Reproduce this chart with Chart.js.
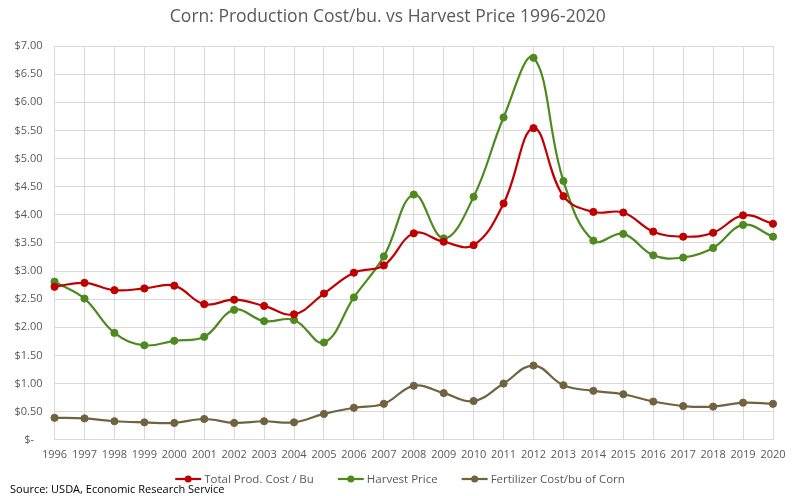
<!DOCTYPE html>
<html>
<head>
<meta charset="utf-8">
<script src="https://cdn.jsdelivr.net/npm/chart.js@4.4.1/dist/chart.umd.min.js"></script>
<style>
  html, body { margin: 0; padding: 0; background: #fff; }
  #wrap { width: 800px; height: 496px; position: relative; }
</style>
</head>
<body>
<div id="wrap"><canvas id="cornChart"></canvas></div>
<script>
// Values ($ per bushel)
const years = ['1996', '1997', '1998', '1999', '2000', '2001', '2002', '2003', '2004', '2005', '2006', '2007', '2008',
    '2009', '2010', '2011', '2012', '2013', '2014', '2015', '2016', '2017', '2018', '2019', '2020'];
const totalProdCost = [2.72, 2.79, 2.66, 2.69, 2.74, 2.41, 2.49, 2.38, 2.23, 2.60, 2.97, 3.10, 3.67,
    3.52, 3.46, 4.20, 5.54, 4.33, 4.05, 4.04, 3.70, 3.61, 3.68, 3.99, 3.84];
const harvestPrice = [2.81, 2.51, 1.90, 1.68, 1.76, 1.83, 2.31, 2.11, 2.13, 1.73, 2.53, 3.26, 4.36,
    3.58, 4.32, 5.73, 6.79, 4.60, 3.54, 3.66, 3.28, 3.24, 3.41, 3.82, 3.61];
const fertilizerCost = [0.39, 0.38, 0.33, 0.31, 0.30, 0.37, 0.30, 0.33, 0.31, 0.46, 0.57, 0.64, 0.96,
    0.83, 0.69, 1.00, 1.32, 0.97, 0.87, 0.81, 0.68, 0.60, 0.59, 0.66, 0.64];
const seriesNames = ['Total Prod. Cost / Bu', 'Harvest Price', 'Fertilizer Cost/bu of Corn'];
const seriesColors = ['#C00000', '#4E8A1F', '#716340'];

const FONT = "'Open Sans', 'DejaVu Sans', sans-serif";

function makeSet(i, values) {
    return {
        label: seriesNames[i],
        data: values,
        borderColor: seriesColors[i],
        backgroundColor: seriesColors[i],
        borderWidth: 2.2,
        pointRadius: 3.6,
        pointBorderWidth: 1,
        pointHoverRadius: 3.6,
        tension: 0.4,
        fill: false
    };
}

// legend drawn as short line + dot, like the spreadsheet original
const bottomLegend = {
    id: 'bottomLegend',
    afterDraw(chart) {
        const ctx = chart.ctx;
        const y = 479;
        ctx.save();
        ctx.font = '11.5px ' + FONT;
        ctx.textBaseline = 'middle';
        const gap = 24;
        const items = chart.data.datasets.map(ds => ({
            ds, w: 26 + 3 + ctx.measureText(ds.label).width
        }));
        const total = items.reduce((s, it) => s + it.w, 0) + gap * (items.length - 1);
        let x = 400 - total / 2;
        items.forEach(it => {
            ctx.strokeStyle = it.ds.borderColor;
            ctx.lineWidth = 2.2;
            ctx.beginPath();
            ctx.moveTo(x, y);
            ctx.lineTo(x + 26, y);
            ctx.stroke();
            ctx.fillStyle = it.ds.borderColor;
            ctx.beginPath();
            ctx.arc(x + 13, y, 3.5, 0, Math.PI * 2);
            ctx.fill();
            ctx.fillStyle = '#595959';
            ctx.fillText(it.ds.label, x + 29, y + 0.5);
            x += it.w + gap;
        });

        ctx.fillStyle = '#000';
        ctx.font = '11px ' + FONT;
        ctx.fillText('Source: USDA, Economic Research Service', 10, 490);
        ctx.restore();
    }
};

new Chart(document.getElementById('cornChart'), {
    type: 'line',
    data: {
        labels: years,
        datasets: [
            makeSet(0, totalProdCost),
            makeSet(1, harvestPrice),
            makeSet(2, fertilizerCost)
        ]
    },
    options: {
        responsive: true,
        maintainAspectRatio: false,
        animation: false,
        layout: {
            padding: { left: 2.5, right: 27, top: 0, bottom: 27 }
        },
        plugins: {
            legend: { display: false },
            tooltip: { enabled: false },
            title: {
                display: true,
                text: 'Corn: Production Cost/bu. vs Harvest Price 1996-2020',
                color: '#595959',
                font: { family: FONT, size: 17.5, weight: 'normal' },
                padding: { top: 7, bottom: 18 }
            }
        },
        scales: {
            x: {
                offset: false,
                grid: { color: '#D9D9D9', lineWidth: 1, drawTicks: false },
                border: { color: '#D9D9D9' },
                ticks: {
                    color: '#595959',
                    font: { family: FONT, size: 11 },
                    padding: 8,
                    maxRotation: 0,
                    autoSkip: false
                }
            },
            y: {
                min: 0,
                max: 7,
                grid: { color: '#D9D9D9', lineWidth: 1, drawTicks: false },
                border: { color: '#D9D9D9' },
                ticks: {
                    stepSize: 0.5,
                    color: '#595959',
                    font: { family: FONT, size: 11 },
                    padding: 12,
                    callback: v => v === 0 ? '$-   ' : '$' + v.toFixed(2)
                }
            }
        }
    },
    plugins: [bottomLegend]
});
</script>
</body>
</html>
